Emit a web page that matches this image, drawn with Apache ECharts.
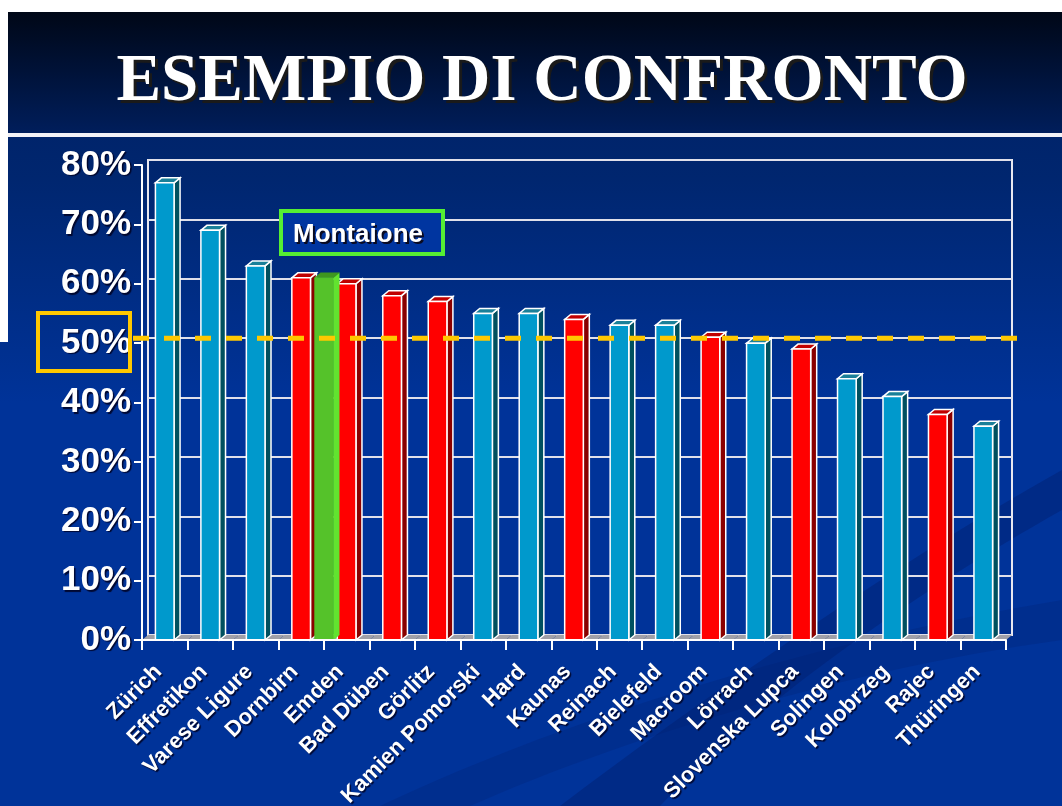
<!DOCTYPE html>
<html><head><meta charset="utf-8">
<script src="https://cdn.jsdelivr.net/npm/echarts@6/dist/echarts.min.js"></script>
<style>html,body{margin:0;padding:0;background:#fff}#c{width:1062px;height:806px}</style>
</head><body><div id="c"></div>
<script>
// ---- data ----
const titleText = 'ESEMPIO DI CONFRONTO';
const categories = ['Zürich','Effretikon','Varese Ligure','Dornbirn','Emden','Bad Düben','Görlitz','Kamien Pomorski','Hard','Kaunas','Reinach','Bielefeld','Macroom','Lörrach','Slovenska Lupca','Solingen','Kolobrzeg','Rajec','Thüringen'];
const values = [77, 69, 63, 61, 60, 58, 57, 55, 55, 54, 53, 53, 51, 50, 49, 44, 41, 38, 36];
const groups = ['A','A','A','B','B','B','B','A','A','B','A','A','B','A','B','A','A','B','A'];
const highlightName = 'Montaione';
const highlightValue = 61;
const highlightAfterIndex = 3; // between Dornbirn and Emden
const referenceValue = 50;
const yMin = 0, yMax = 80, yStep = 10;

// ---- styles ----
const palettes = {
  A: {face:'#0099CC', side:'#00505F', top:'#1A8099'},
  B: {face:'#FF0000', side:'#8A0000', top:'#C00000'},
  H: {face:'#55C22A', side:'#62E32F', top:'#3E9620'}
};
const DX = 6, DY = 5;

const chart = echarts.init(document.getElementById('c'), null, {renderer:'canvas'});

function barItem(params, api, pal, outline, shift) {
  const xi = api.value(0), v = api.value(1);
  const band = api.size([1, 0])[0];
  const b = api.coord([xi, 0]);
  const t = api.coord([xi, v]);
  const cx = b[0] + (shift ? band / 2 : 0);
  const w = band * 0.41;
  const x0 = cx - w / 2, x1 = cx + w / 2, yb = b[1], yt = t[1];
  const st = (fill) => outline ? {fill, stroke:'#ffffff', lineWidth:1.5} : {fill, stroke:fill, lineWidth:0.5};
  return {type:'group', children:[
    {type:'polygon', shape:{points:[[x1,yb],[x1+DX,yb-DY],[x1+DX,yt-DY],[x1,yt]]}, style:st(pal.side)},
    {type:'polygon', shape:{points:[[x0,yt],[x1,yt],[x1+DX,yt-DY],[x0+DX,yt-DY]]}, style:st(pal.top)},
    {type:'rect', shape:{x:x0, y:yt, width:w, height:yb-yt}, style:st(pal.face)}
  ]};
}

// decorative swoosh shape (cubic bezier band), sampled to points
function swoosh(p0, c1, c2, p1, q0, d1, d2, q1) {
  const pts = [];
  const bz = (a, b, c, d, t) => {
    const u = 1 - t;
    return [u*u*u*a[0] + 3*u*u*t*b[0] + 3*u*t*t*c[0] + t*t*t*d[0], u*u*u*a[1] + 3*u*u*t*b[1] + 3*u*t*t*c[1] + t*t*t*d[1]];
  };
  for (let i = 0; i <= 30; i++) pts.push(bz(p0, c1, c2, p1, i / 30));
  for (let i = 30; i >= 0; i--) pts.push(bz(q0, d1, d2, q1, i / 30));
  return pts;
}

const labelShadow = {textShadowColor:'rgba(0,0,30,0.85)', textShadowOffsetX:1.5, textShadowOffsetY:1.5, textShadowBlur:1};

const option = {
  animation: false,
  backgroundColor: 'transparent',
  grid: [
    {left:142, right:56, top:165, bottom:166, outerBoundsMode:'none', containLabel:false},
    {left:148, right:50, top:160, bottom:171, outerBoundsMode:'none', containLabel:false, show:true, borderColor:'#E8E8F0', borderWidth:2, backgroundColor:'transparent'}
  ],
  xAxis: [
    {type:'category', gridIndex:0, data:categories, boundaryGap:true, z:5,
     axisLine:{lineStyle:{color:'#ffffff', width:2}},
     axisTick:{show:true, length:10, lineStyle:{color:'#ffffff', width:2}, alignWithLabel:false},
     axisLabel:Object.assign({rotate:45, margin:22, padding:[0,9,0,0], color:'#ffffff', fontFamily:'"Liberation Sans", Arial', fontWeight:'bold', fontSize:22, interval:0}, labelShadow),
     splitLine:{show:false}},
    {type:'category', gridIndex:1, data:categories, boundaryGap:true, show:false}
  ],
  yAxis: [
    {type:'value', gridIndex:0, min:yMin, max:yMax, interval:yStep, z:5,
     axisLine:{show:true, lineStyle:{color:'#ffffff', width:2}},
     axisTick:{show:true, length:8, lineStyle:{color:'#ffffff', width:2}},
     axisLabel:Object.assign({margin:11, color:'#ffffff', fontFamily:'"Liberation Sans", Arial', fontWeight:'bold', fontSize:35, formatter:(v)=>v+'%'}, labelShadow),
     splitLine:{show:false}},
    {type:'value', gridIndex:1, min:yMin, max:yMax, interval:yStep,
     axisLine:{show:false}, axisTick:{show:false}, axisLabel:{show:false},
     splitLine:{show:true, lineStyle:{color:'#E0E0EA', width:2}}}
  ],
  series: [
    { // floor
      type:'custom', xAxisIndex:0, yAxisIndex:0, z:1,
      data: categories.map((c, i) => [i, 0]),
      renderItem: function(params, api) {
        const band = api.size([1, 0])[0];
        const p = api.coord([api.value(0), 0]);
        const a = p[0] - band / 2, b = p[0] + band / 2, y = p[1];
        return {type:'polygon', shape:{points:[[a,y],[b,y],[b+DX,y-DY],[a+DX,y-DY]]}, style:{fill:'#A0A0A8'}};
      }
    },
    { // bars
      type:'custom', xAxisIndex:0, yAxisIndex:0, z:2,
      data: values.map((v, i) => [i, v]),
      renderItem: function(params, api) {
        return barItem(params, api, palettes[groups[params.dataIndex]], true, false);
      }
    },
    { // highlight bar
      type:'custom', name:highlightName, xAxisIndex:0, yAxisIndex:0, z:3,
      data: [[highlightAfterIndex, highlightValue]],
      renderItem: function(params, api) {
        return barItem(params, api, palettes.H, false, true);
      }
    },
    { // reference dashed line
      type:'custom', xAxisIndex:1, yAxisIndex:1, z:6,
      data: [[0, referenceValue]],
      renderItem: function(params, api) {
        const p = api.coord([0, api.value(1)]);
        const cs = params.coordSys;
        return {type:'line', shape:{x1:cs.x - 15, y1:p[1], x2:cs.x + cs.width + 6, y2:p[1]},
          style:{stroke:'#FFC800', lineWidth:5, lineDash:[16, 15]}};
      }
    }
  ],
  graphic: [
    // background
    {type:'rect', z:-10, shape:{x:0, y:0, width:1062, height:806},
     style:{fill:new echarts.graphic.LinearGradient(0,0,0,1,[{offset:0,color:'#001E5E'},{offset:0.22,color:'#00266F'},{offset:0.5,color:'#003399'},{offset:1,color:'#003399'}])}},
    // swooshes
    {type:'polygon', z:-9, shape:{points:swoosh([560,806],[700,700],[900,560],[1062,470],[660,806],[760,700],[920,590],[1062,510])}, style:{fill:'rgba(0,25,100,0.35)'}},
    {type:'polygon', z:-9, shape:{points:swoosh([380,806],[560,720],[820,640],[1062,600],[470,806],[620,740],[840,670],[1062,640])}, style:{fill:'rgba(0,30,110,0.25)'}},
    // title band
    {type:'rect', z:-8, shape:{x:0, y:0, width:1062, height:135},
     style:{fill:new echarts.graphic.LinearGradient(0,0,0,1,[{offset:0,color:'#000510'},{offset:1,color:'#001E5C'}])}},
    {type:'rect', z:-7, shape:{x:0, y:133, width:1062, height:4}, style:{fill:'#F2F2F6'}},
    // white margins
    {type:'rect', z:-6, shape:{x:0, y:0, width:1062, height:12}, style:{fill:'#ffffff'}},
    {type:'rect', z:-6, shape:{x:0, y:0, width:8, height:342}, style:{fill:'#ffffff'}},
    // title
    {type:'text', z:20, x:545, y:86, style:{text:titleText, fill:'#1a1a1a', font:'bold 67px "Liberation Serif", "Times New Roman", serif', align:'center', verticalAlign:'middle'}},
    {type:'text', z:21, x:542, y:83, style:{text:titleText, fill:'#ffffff', font:'bold 67px "Liberation Serif", "Times New Roman", serif', align:'center', verticalAlign:'middle'}},
    // highlight label box
    {type:'rect', z:20, shape:{x:281, y:211, width:162, height:43}, style:{fill:'#0035A0', stroke:'#55EE33', lineWidth:4}},
    {type:'text', z:21, x:295, y:237, style:{text:highlightName, fill:'#0a0a20', font:'bold 26px "Liberation Sans", Arial', verticalAlign:'middle'}},
    {type:'text', z:22, x:293, y:235, style:{text:highlightName, fill:'#ffffff', font:'bold 26px "Liberation Sans", Arial', verticalAlign:'middle'}},
    // reference label box
    {type:'rect', z:20, shape:{x:38, y:313, width:92, height:58}, style:{fill:'none', stroke:'#FFC800', lineWidth:4}}
  ]
};
chart.setOption(option);
</script>
</body></html>
